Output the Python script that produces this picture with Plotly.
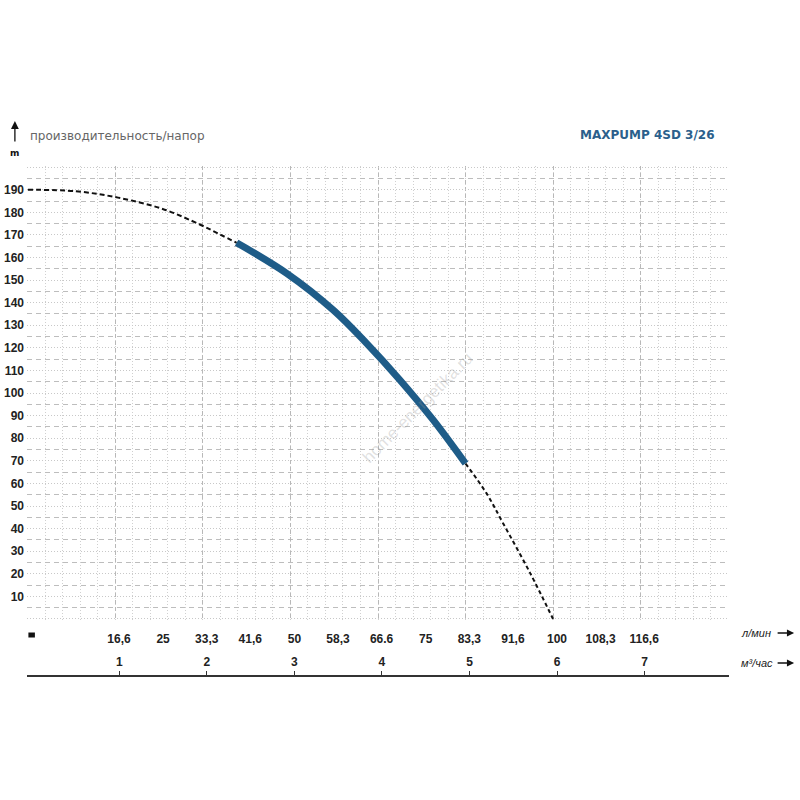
import plotly.graph_objects as go

# ---- data (flow in m3/h, head in m) ----
upper_q = [0.0, 0.55, 1.03, 1.54, 1.97, 2.19, 2.385]
upper_h = [190.0, 189.3, 186.5, 181.5, 174.5, 170.3, 166.5]

work_q = [2.385, 2.957, 3.49, 3.87, 4.25, 4.63, 5.0]
work_h = [166.5, 153.0, 136.7, 122.0, 105.8, 88.1, 68.8]

lower_q = [5.0, 5.24, 5.43, 5.74, 6.0]
lower_h = [68.8, 55.6, 42.3, 20.2, 0.0]

m3h_ticks = [1, 2, 3, 4, 5, 6, 7]
lpm_values = [16.6, 25, 33.3, 41.6, 50, 58.3, 66.6, 75, 83.3, 91.6, 100, 108.3, 116.6]
lpm_text = ["16,6", "25", "33,3", "41,6", "50", "58,3", "66.6", "75", "83,3", "91,6", "100", "108,3", "116,6"]
head_ticks = list(range(10, 200, 10))

title_left = "производительность/напор"
title_right = "MAXPUMP 4SD 3/26"

# ---- geometry (screen px; body margin removed so screen == figure px) ----
W, H = 800, 800
X_LEFT, X_RIGHT = 27.1, 728.9        # screen x of plot area
Y_TOP, Y_AXIS = 165.9, 676            # screen y: grid top, bottom axis line
Y_GRID_BOTTOM = 620.1

ML = X_LEFT
MR = W - X_RIGHT
MT = Y_TOP
MB = H - Y_AXIS
PW, PH = W - ML - MR, H - MT - MB


def px(x):
    return (x - ML) / PW


def py(y):
    return (H - MB - y) / PH


fig = go.Figure()

fig.add_trace(go.Scatter(x=upper_q, y=upper_h, mode="lines", line=dict(color="#111", width=2, dash="5px,3px", shape="spline"),
                         showlegend=False, hoverinfo="skip"))
fig.add_trace(go.Scatter(x=lower_q, y=lower_h, mode="lines", line=dict(color="#111", width=2, dash="4px,3px", shape="spline"),
                         showlegend=False, hoverinfo="skip"))
fig.add_trace(go.Scatter(x=work_q, y=work_h, mode="lines", line=dict(color="#1e5c88", width=7, shape="spline"),
                         showlegend=False, hoverinfo="skip"))
# dummy traces so the label axes are rendered
fig.add_trace(go.Scatter(x=[None], y=[None], xaxis="x2", yaxis="y", showlegend=False, hoverinfo="skip"))
fig.add_trace(go.Scatter(x=[None], y=[None], xaxis="x3", yaxis="y", showlegend=False, hoverinfo="skip"))

tick_font = dict(family="Liberation Sans", size=12, color="#222", weight="bold")
label_range = [-0.055, 7.965]

fig.update_layout(
    width=W, height=H, autosize=False,
    margin=dict(l=ML, r=MR, t=MT, b=MB, autoexpand=False),
    paper_bgcolor="white", plot_bgcolor="white",
    showlegend=False,
    xaxis=dict(
        domain=[0, 1], range=[-0.01, 8.01], anchor="y", automargin=False,
        tickmode="array", tickvals=list(range(0, 9)),
        showticklabels=False, ticks="",
        showgrid=True, gridcolor="#b8b8b8", griddash="4px,3px", gridwidth=1,
        zeroline=False, showline=False,
        minor=dict(tickmode="linear", tick0=0, dtick=0.2, showgrid=True,
                   gridcolor="#d0d0d0", griddash="1px,2px", gridwidth=1, ticks=""),
    ),
    yaxis=dict(
        domain=[py(Y_GRID_BOTTOM), 1], range=[-0.5, 200.5], automargin=False,
        tickmode="array", tickvals=[0] + head_ticks + [200],
        ticktext=[""] + [str(v) for v in head_ticks] + [""],
        tickfont=tick_font, ticks="", ticklabelstandoff=2,
        showgrid=True, gridcolor="#c8c8c8", griddash="1px,2px", gridwidth=1,
        zeroline=False, showline=False,
        minor=dict(tickmode="array", tickvals=list(range(5, 200, 10)), showgrid=True,
                   gridcolor="#bdbdbd", griddash="5px,4px", gridwidth=1, ticks=""),
    ),
    xaxis2=dict(
        overlaying="x", anchor="free", position=0, side="top", automargin=False,
        range=label_range, tickmode="array", tickvals=m3h_ticks,
        ticks="outside", ticklen=4, tickwidth=1, tickcolor="#333",
        showline=True, linecolor="#333", linewidth=2,
        showgrid=False, zeroline=False, tickfont=tick_font,
    ),
    xaxis3=dict(
        overlaying="x", anchor="free", position=py(630), side="bottom", automargin=False,
        range=label_range, tickmode="array",
        tickvals=[v * 60 / 1000 for v in lpm_values], ticktext=lpm_text,
        ticks="", showline=False, showgrid=False, zeroline=False, tickfont=tick_font,
    ),
)

ann = []
ann.append(dict(xref="paper", yref="paper", x=px(28), y=py(136), xanchor="left", yanchor="middle",
                text=title_left, showarrow=False,
                font=dict(family="DejaVu Sans", size=12, color="#666")))
ann.append(dict(xref="paper", yref="paper", x=px(717), y=py(135), xanchor="right", yanchor="middle",
                text=title_right, showarrow=False,
                font=dict(family="DejaVu Sans", size=12, color="#2b5f8c", weight="bold")))
ann.append(dict(xref="paper", yref="paper", x=px(15), y=py(153), xanchor="center", yanchor="middle",
                text="m", showarrow=False,
                font=dict(family="DejaVu Sans", size=9, color="#111", weight="bold")))
# up arrow above "m"
ann.append(dict(xref="paper", yref="paper", x=px(15), y=py(121), text="", showarrow=True,
                ax=0, ay=22, arrowhead=2, arrowsize=1.2, arrowwidth=1.3, arrowcolor="#111"))
# unit labels and arrows on the right
ann.append(dict(xref="paper", yref="paper", x=px(739), y=py(633), xanchor="left", yanchor="middle",
                text="<i>л/мин</i>", showarrow=False,
                font=dict(family="Liberation Sans", size=11, color="#222")))
ann.append(dict(xref="paper", yref="paper", x=px(739), y=py(663), xanchor="left", yanchor="middle",
                text="<i>м³/час</i>", showarrow=False,
                font=dict(family="Liberation Sans", size=11, color="#222")))
for yy in (633, 663):
    ann.append(dict(xref="paper", yref="paper", x=px(794), y=py(yy), text="", showarrow=True,
                    ax=-18, ay=0, arrowhead=2, arrowsize=1.1, arrowwidth=1.3, arrowcolor="#111"))
# faint watermark
ann.append(dict(xref="paper", yref="paper", x=px(417), y=py(408), text="home-energetika.ru",
                showarrow=False, textangle=-45,
                font=dict(family="Liberation Sans", size=17, color="rgba(150,150,150,0.3)")))

fig.update_layout(annotations=ann)

fig.add_shape(type="rect", xref="paper", yref="paper",
              x0=px(28.5), x1=px(35), y0=py(637.5), y1=py(632.5),
              fillcolor="#111", line=dict(width=0))

fig.write_html("out.html", config={"displayModeBar": False},
               post_script="document.body.style.margin='0px';")
